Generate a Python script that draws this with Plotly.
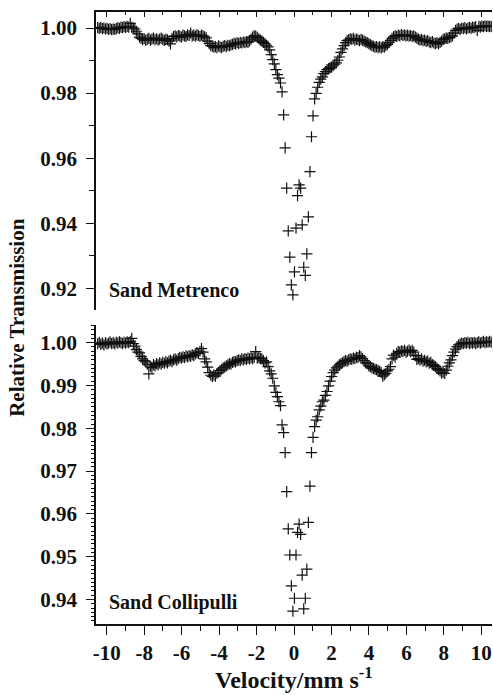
import numpy as np
import plotly.graph_objects as go

# Calibrated drive velocity of the 255 folded channels (mm/s)
velocity_range = (-10.479, 10.527)
n_channels = 255

# Relative transmission, Sand Metrenco (upper spectrum)
metrenco = [
    1.0001, 0.9999, 1.0002, 0.9998, 1.0000, 0.9997, 0.9999, 0.9996, 0.9998, 0.9995,
    0.9997, 0.9996, 0.9998, 1.0001, 0.9999, 1.0003, 1.0001, 1.0004, 1.0002, 1.0005,
    1.0003, 1.0014, 1.0002, 1.0000, 0.9997, 0.9990, 0.9982, 0.9972, 0.9968, 0.9964,
    0.9967, 0.9962, 0.9965, 0.9968, 0.9963, 0.9966, 0.9969, 0.9964, 0.9967, 0.9963,
    0.9966, 0.9969, 0.9965, 0.9962, 0.9966, 0.9964, 0.9960, 0.9951, 0.9968, 0.9974,
    0.9976, 0.9973, 0.9977, 0.9975, 0.9972, 0.9978, 0.9976, 0.9974, 0.9979, 0.9977,
    0.9984, 0.9976, 0.9978, 0.9975, 0.9979, 0.9977, 0.9974, 0.9978, 0.9976, 0.9973,
    0.9970, 0.9960, 0.9952, 0.9946, 0.9944, 0.9941, 0.9943, 0.9940, 0.9945, 0.9942,
    0.9940, 0.9944, 0.9946, 0.9943, 0.9947, 0.9945, 0.9948, 0.9950, 0.9953, 0.9951,
    0.9955, 0.9952, 0.9956, 0.9954, 0.9957, 0.9955, 0.9958, 0.9956, 0.9960, 0.9966,
    0.9972, 0.9976, 0.9975, 0.9971, 0.9967, 0.9963, 0.9960, 0.9956, 0.9952, 0.9947,
    0.9942, 0.9933, 0.9918, 0.9903, 0.9890, 0.9872, 0.9857, 0.9846, 0.9831, 0.9804,
    0.9733, 0.9632, 0.9508, 0.9377, 0.9296, 0.9211, 0.9180, 0.9251, 0.9385, 0.9485,
    0.9518, 0.9508, 0.9395, 0.9265, 0.9240, 0.9306, 0.9420, 0.9559, 0.9666, 0.9730,
    0.9782, 0.9799, 0.9818, 0.9833, 0.9843, 0.9850, 0.9860, 0.9866, 0.9872, 0.9875,
    0.9878, 0.9880, 0.9884, 0.9889, 0.9893, 0.9901, 0.9911, 0.9925, 0.9936, 0.9946,
    0.9955, 0.9961, 0.9964, 0.9967, 0.9965, 0.9968, 0.9963, 0.9966, 0.9964, 0.9961,
    0.9965, 0.9962, 0.9960, 0.9957, 0.9955, 0.9952, 0.9949, 0.9946, 0.9944, 0.9941,
    0.9943, 0.9940, 0.9942, 0.9939, 0.9943, 0.9941, 0.9946, 0.9950, 0.9955, 0.9962,
    0.9968, 0.9973, 0.9976, 0.9974, 0.9978, 0.9976, 0.9980, 0.9977, 0.9979, 0.9976,
    0.9978, 0.9975, 0.9977, 0.9974, 0.9976, 0.9972, 0.9969, 0.9966, 0.9963, 0.9965,
    0.9961, 0.9963, 0.9959, 0.9961, 0.9957, 0.9955, 0.9958, 0.9954, 0.9952, 0.9955,
    0.9951, 0.9956, 0.9960, 0.9965, 0.9967, 0.9969, 0.9968, 0.9971, 0.9973, 0.9976,
    0.9984, 0.9993, 0.9997, 0.9999, 0.9996, 1.0000, 0.9998, 1.0001, 0.9997, 1.0000,
    1.0002, 0.9999, 1.0003, 1.0001, 1.0004, 0.9993, 1.0005, 1.0003, 1.0006, 1.0004,
    1.0007, 1.0005, 1.0006, 1.0004, 1.0005,
]

# Relative transmission, Sand Collipulli (lower spectrum)
collipulli = [
    0.9998, 1.0001, 0.9996, 0.9999, 0.9995, 1.0000, 0.9997, 0.9999, 1.0002, 0.9998,
    1.0000, 0.9997, 1.0001, 0.9999, 1.0002, 1.0000, 0.9998, 1.0001, 0.9999, 1.0002,
    1.0000, 1.0003, 1.0010, 0.9998, 0.9992, 0.9984, 0.9978, 0.9976, 0.9968, 0.9962,
    0.9958, 0.9955, 0.9950, 0.9927, 0.9945, 0.9942, 0.9949, 0.9946, 0.9951, 0.9948,
    0.9953, 0.9950, 0.9954, 0.9952, 0.9956, 0.9953, 0.9957, 0.9959, 0.9956, 0.9960,
    0.9962, 0.9959, 0.9963, 0.9966, 0.9964, 0.9967, 0.9965, 0.9969, 0.9967, 0.9970,
    0.9968, 0.9972, 0.9970, 0.9974, 0.9977, 0.9975, 0.9980, 0.9986, 0.9978, 0.9962,
    0.9955, 0.9943, 0.9930, 0.9924, 0.9921, 0.9925, 0.9922, 0.9928, 0.9931, 0.9935,
    0.9938, 0.9941, 0.9943, 0.9946, 0.9948, 0.9951, 0.9950, 0.9954, 0.9956, 0.9955,
    0.9958, 0.9960, 0.9958, 0.9962, 0.9960, 0.9963, 0.9961, 0.9964, 0.9962, 0.9965,
    0.9963, 0.9966, 0.9979, 0.9964, 0.9966, 0.9963, 0.9962, 0.9958, 0.9953, 0.9955,
    0.9944, 0.9934, 0.9927, 0.9917, 0.9899, 0.9884, 0.9874, 0.9862, 0.9853, 0.9808,
    0.9790, 0.9743, 0.9652, 0.9565, 0.9504, 0.9432, 0.9373, 0.9403, 0.9504, 0.9557,
    0.9576, 0.9552, 0.9457, 0.9378, 0.9403, 0.9471, 0.9580, 0.9665, 0.9743, 0.9779,
    0.9804, 0.9819, 0.9827, 0.9843, 0.9852, 0.9862, 0.9866, 0.9877, 0.9886, 0.9899,
    0.9910, 0.9921, 0.9930, 0.9936, 0.9941, 0.9945, 0.9948, 0.9951, 0.9953, 0.9956,
    0.9958, 0.9957, 0.9960, 0.9962, 0.9961, 0.9964, 0.9963, 0.9966, 0.9965, 0.9970,
    0.9967, 0.9963, 0.9958, 0.9953, 0.9951, 0.9946, 0.9944, 0.9941, 0.9940, 0.9938,
    0.9937, 0.9935, 0.9933, 0.9930, 0.9922, 0.9925, 0.9928, 0.9934, 0.9938, 0.9944,
    0.9962, 0.9971, 0.9966, 0.9975, 0.9979, 0.9978, 0.9981, 0.9979, 0.9982, 0.9978,
    0.9980, 0.9983, 0.9979, 0.9982, 0.9978, 0.9970, 0.9961, 0.9963, 0.9959, 0.9962,
    0.9957, 0.9959, 0.9955, 0.9957, 0.9952, 0.9954, 0.9949, 0.9947, 0.9944, 0.9940,
    0.9937, 0.9934, 0.9929, 0.9931, 0.9928, 0.9936, 0.9945, 0.9953, 0.9960, 0.9970,
    0.9978, 0.9985, 0.9991, 0.9995, 0.9997, 0.9999, 0.9998, 1.0000, 0.9999, 1.0001,
    0.9998, 1.0000, 0.9999, 1.0001, 0.9998, 1.0000, 1.0002, 0.9999, 1.0001, 1.0003,
    1.0000, 1.0002, 1.0001, 1.0003, 1.0001,
]

x_tickvals = [-10, -8, -6, -4, -2, 0, 2, 4, 6, 8, 10]
x_ticktext = ["-10", "-8", "-6", "-4", "-2", "0", "2", "4", "6", "8", "10"]
top_yticks = [0.92, 0.94, 0.96, 0.98, 1.00]
bottom_yticks = [0.94, 0.95, 0.96, 0.97, 0.98, 0.99, 1.00]

velocity = np.linspace(velocity_range[0], velocity_range[1], n_channels)

FONT = "Liberation Serif, Times New Roman, serif"
INK = "#111111"
X_RANGE = [-10.57, 10.57]
TOP_RANGE = [0.91337, 1.00492]
BOT_RANGE = [0.93428, 1.00414]

marker = dict(symbol="cross-thin", size=8, color=INK, line=dict(color=INK, width=1.2))

fig = go.Figure()
fig.add_trace(go.Scatter(x=velocity, y=metrenco, mode="markers", marker=marker,
                         xaxis="x2", yaxis="y2", showlegend=False))
fig.add_trace(go.Scatter(x=velocity, y=collipulli, mode="markers", marker=marker,
                         xaxis="x", yaxis="y", showlegend=False))

tickfont = dict(family=FONT, size=21, color=INK, weight="bold")
common_y = dict(showline=True, linecolor=INK, linewidth=1.5, showgrid=False,
                zeroline=False, tickcolor=INK, tickwidth=1.2)

fig.update_layout(
    width=493, height=695,
    margin=dict(l=96, r=1, t=12, b=71),
    paper_bgcolor="white", plot_bgcolor="white",
    xaxis=dict(domain=[0, 1], anchor="y", range=X_RANGE, showline=True,
               linecolor=INK, linewidth=1.5, showgrid=False, zeroline=False,
               ticks="outside", ticklen=9, tickwidth=1.2, tickcolor=INK,
               tickvals=x_tickvals, ticktext=x_ticktext, tickfont=tickfont,
               minor=dict(dtick=1, tick0=0, ticks="outside", ticklen=5,
                          tickwidth=1.2, tickcolor=INK, showgrid=False)),
    xaxis2=dict(domain=[0, 1], anchor="y2", side="top", range=X_RANGE,
                showline=True, linecolor=INK, linewidth=1.5, showgrid=False,
                zeroline=False, ticks="inside", ticklen=5, tickwidth=1.2,
                tickcolor=INK, tickvals=x_tickvals, showticklabels=False,
                minor=dict(dtick=1, tick0=0, ticks="inside", ticklen=3,
                           tickwidth=1.2, tickcolor=INK, showgrid=False)),
    yaxis=dict(domain=[0, 0.4886], anchor="x", range=BOT_RANGE, ticks="outside",
               ticklen=8, tickvals=bottom_yticks, tickformat=".2f", tickfont=tickfont,
               ticklabelstandoff=5,
               minor=dict(dtick=0.001, tick0=0.94, ticks="outside", ticklen=3,
                          tickwidth=1, tickcolor=INK, showgrid=False),
               **common_y),
    yaxis3=dict(overlaying="y", side="right", anchor="x", range=BOT_RANGE,
                ticks="inside", ticklen=6, tickvals=bottom_yticks,
                showticklabels=False,
                minor=dict(dtick=0.001, tick0=0.94, ticks="inside", ticklen=3,
                           tickwidth=1, tickcolor=INK, showgrid=False),
                **common_y),
    yaxis2=dict(domain=[0.5131, 1], anchor="x2", range=TOP_RANGE, ticks="outside",
                ticklen=8, tickvals=top_yticks, tickformat=".2f", tickfont=tickfont,
                ticklabelstandoff=5,
                minor=dict(dtick=0.01, tick0=0.92, ticks="outside", ticklen=5,
                           tickwidth=1.2, tickcolor=INK, showgrid=False),
                **common_y),
    yaxis4=dict(overlaying="y2", side="right", anchor="x2", range=TOP_RANGE,
                ticks="inside", ticklen=6, tickvals=top_yticks,
                showticklabels=False,
                minor=dict(dtick=0.01, tick0=0.92, ticks="inside", ticklen=3,
                           tickwidth=1.2, tickcolor=INK, showgrid=False),
                **common_y),
)

label_font = dict(family=FONT, size=20, color=INK, weight="bold")

fig.add_annotation(text="Sand Metrenco", xref="x2", yref="y2", x=-10.0, y=0.9195,
                   xanchor="left", yanchor="middle", showarrow=False, font=label_font)
fig.add_annotation(text="Sand Collipulli", xref="x", yref="y", x=-10.0, y=0.9394,
                   xanchor="left", yanchor="middle", showarrow=False, font=label_font)
fig.add_annotation(text="Relative Transmission", xref="paper", yref="paper",
                   x=-0.2, y=0.50, textangle=-90, xanchor="center", yanchor="middle",
                   showarrow=False,
                   font=dict(family=FONT, size=21, color=INK, weight="bold"))
fig.add_annotation(text="Velocity/mm s<sup>-1</sup>", xref="paper", yref="paper",
                   x=0.5, y=-0.089, xanchor="center", yanchor="middle",
                   showarrow=False,
                   font=dict(family=FONT, size=24, color=INK, weight="bold"))

fig.write_html("out.html")
